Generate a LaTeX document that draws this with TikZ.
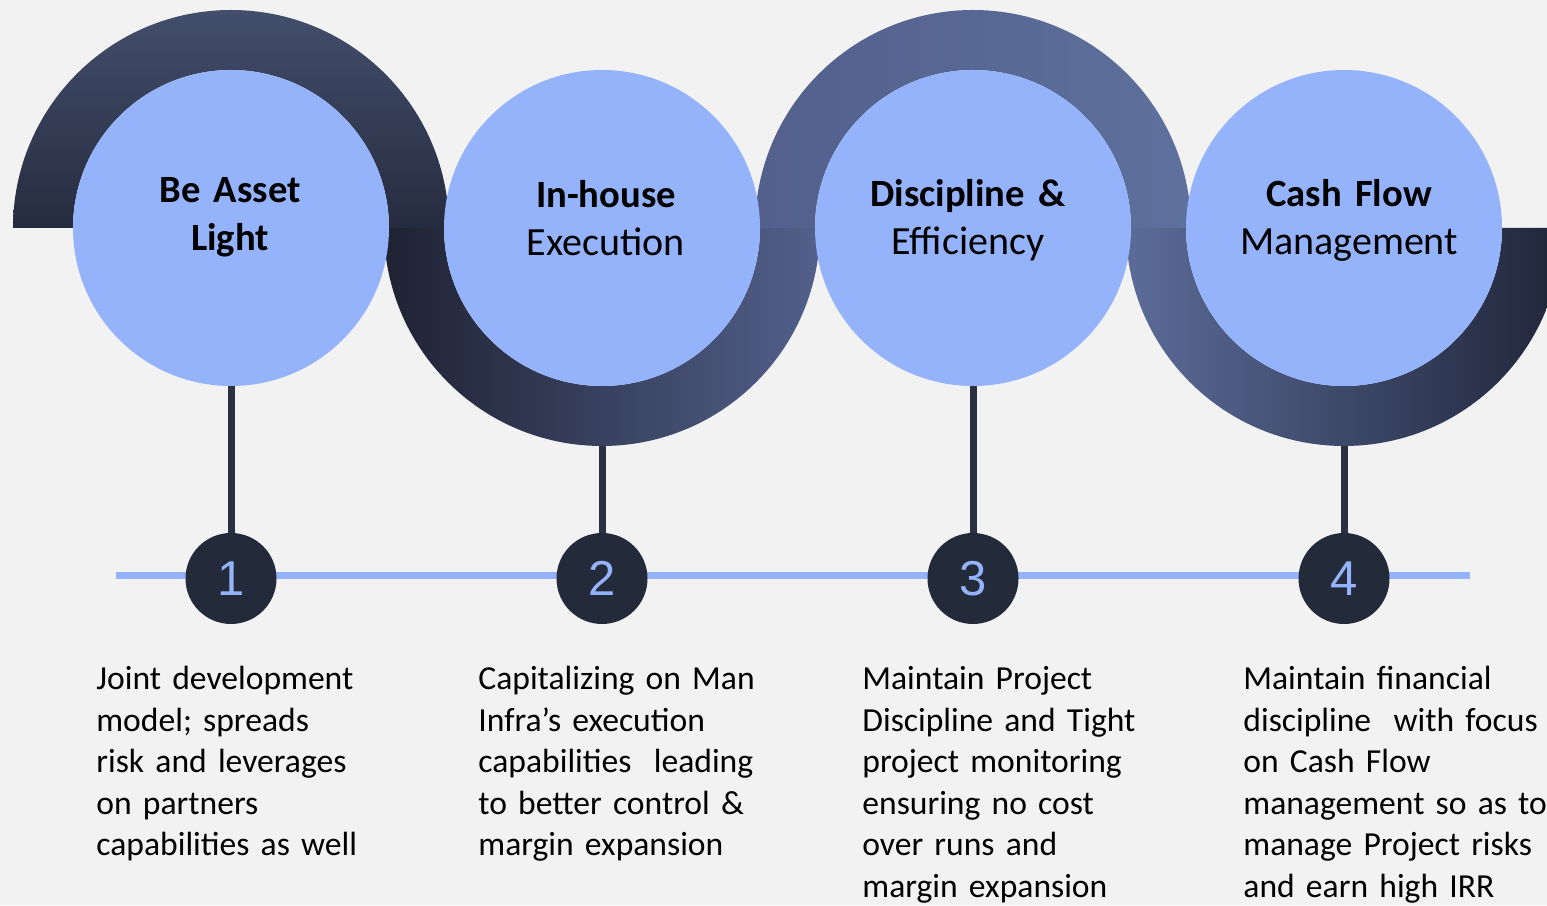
\documentclass[tikz,border=0pt]{standalone}
\usepackage{fontspec}
\setmainfont{Carlito}
\newfontfamily\numfont{Liberation Sans}
\usepackage{xcolor}
\definecolor{pagegray}{HTML}{F2F2F2}
\definecolor{discblue}{HTML}{94B3FA}
\definecolor{stemnavy}{HTML}{2A3142}
\definecolor{badgenavy}{HTML}{232A3A}
\definecolor{waveA}{HTML}{434E6C}
\definecolor{waveB}{HTML}{262C3F}
\definecolor{waveC}{HTML}{1E2232}
\definecolor{waveD}{HTML}{52608B}
\definecolor{waveE}{HTML}{52608B}
\definecolor{waveF}{HTML}{5E709D}
\definecolor{waveG}{HTML}{5B6C99}
\definecolor{waveH}{HTML}{20263A}
\newcommand{\headbold}[1]{{\fontsize{19.3}{24}\selectfont\bfseries #1}}
\pgfdeclarelayer{paper}
\pgfdeclarelayer{stems}
\pgfsetlayers{paper,stems,main}

\begin{document}
\begin{tikzpicture}[x=0.5pt, y=0.5pt,
    disc/.style={circle, fill=discblue, minimum size=158pt, inner sep=0pt},
    badge/.style={circle, fill=badgenavy, minimum size=45.5pt, inner sep=0pt, text=discblue, font=\numfont\fontsize{24.5}{25}\selectfont},
    title/.style={text width=150pt, align=center, anchor=base, inner sep=0pt, font=\fontsize{20}{24}\selectfont},
    note/.style={text width=160pt, align=left, anchor=base west, inner sep=0pt, font=\fontsize{16.8}{20.75}\selectfont},
    stem/.style={draw=stemnavy, line width=3.5pt},
    track/.style={draw=discblue, line width=3.8pt}]
  \useasboundingbox (0,0) rectangle (1547,905);
  \begin{pgfonlayer}{paper}
    \fill[pagegray] (0,0) rectangle (1547,905);
  \end{pgfonlayer}

  % the wave behind the discs
  \begin{scope}
    \clip (0,0) rectangle (1547,905);
    \shade[top color=waveA, bottom color=waveB] (13,677) arc[start angle=180, end angle=0, radius=218] -- (389,677) arc[start angle=0, end angle=180, radius=158] -- cycle;
    \shade[left color=waveC, right color=waveD] (384,677) arc[start angle=180, end angle=360, radius=218] -- (760,677) arc[start angle=360, end angle=180, radius=158] -- cycle;
    \shade[left color=waveE, right color=waveF] (755,677) arc[start angle=180, end angle=0, radius=218] -- (1131,677) arc[start angle=0, end angle=180, radius=158] -- cycle;
    \shade[left color=waveG, right color=waveH] (1126,677) arc[start angle=180, end angle=360, radius=218] -- (1502,677) arc[start angle=360, end angle=180, radius=158] -- cycle;
  \end{scope}

  \node[disc] (asset) at (231,677) {};
  \node[disc] (inhouse) at (602,677) {};
  \node[disc] (discipline) at (973,677) {};
  \node[disc] (cashflow) at (1344,677) {};

  \node[title] (assettitle) at (230,702) {\headbold{Be Asset}\\\headbold{Light}};
  \node[title] (inhousetitle) at (606,697) {\headbold{In-house}\\Execution};
  \node[title] (disciplinetitle) at (968,698) {\headbold{Discipline \&}\\Efficiency};
  \node[title] (cashflowtitle) at (1349,698) {\headbold{Cash Flow}\\Management};

  \coordinate (trackstart) at (116,329.5);
  \coordinate (trackend) at (1470,329.5);
  \draw[track] (trackstart) -- (trackend);

  \node[badge] (one) at (231,326.5) {1};
  \node[badge] (two) at (602,326.5) {2};
  \node[badge] (three) at (973,326.5) {3};
  \node[badge] (four) at (1344,326.5) {4};

  \begin{pgfonlayer}{stems}
    \draw[stem] (asset.center) -- (one.center);
    \draw[stem] (inhouse.center) -- (two.center);
    \draw[stem] (discipline.center) -- (three.center);
    \draw[stem] (cashflow.center) -- (four.center);
  \end{pgfonlayer}

  \node[note] (assetnote) at (96,215) {Joint development\\model; spreads\\risk and leverages\\on partners\\capabilities as well};
  \node[note] (inhousenote) at (478,215) {Capitalizing on Man\\Infra’s execution\\capabilities\ \ leading\\to better control \&\\margin expansion};
  \node[note] (disciplinenote) at (862,215) {Maintain Project\\Discipline and Tight\\project monitoring\\ensuring no cost\\over runs and\\margin expansion};
  \node[note] (cashflownote) at (1243,215) {Maintain financial\\discipline\ \ with focus\\on Cash Flow\\management so as to\\manage Project risks\\and earn high IRR};
\end{tikzpicture}
\end{document}
